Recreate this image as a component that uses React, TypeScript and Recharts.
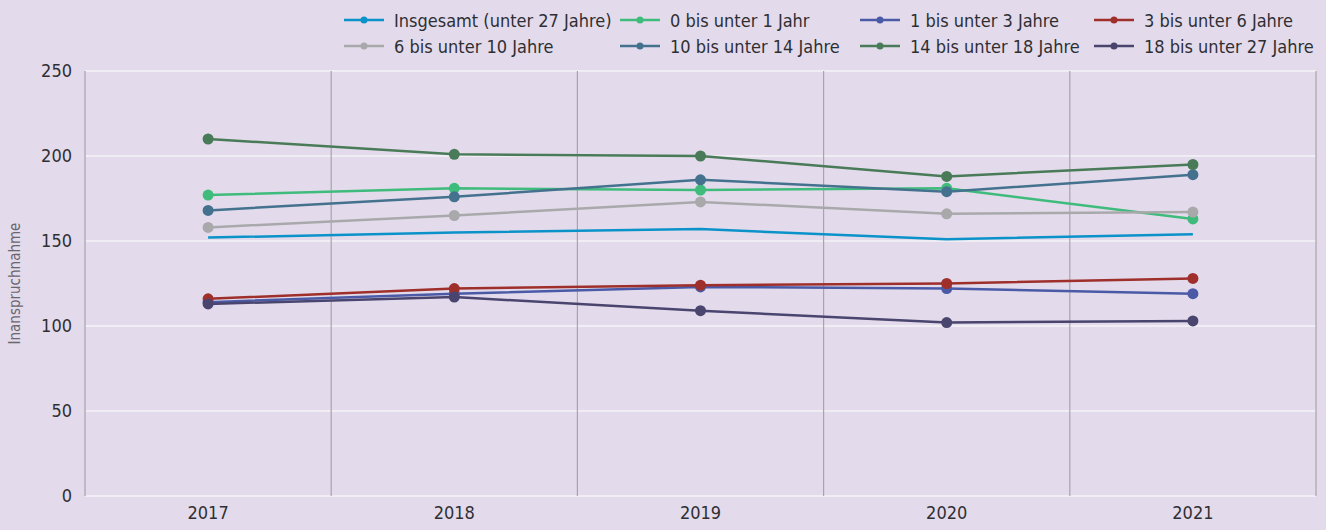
import React from "react";
import {
  CartesianGrid,
  Line,
  LineChart,
  XAxis,
  YAxis,
} from "recharts";

// Jahre und Werte je Altersgruppe
const years = [2017, 2018, 2019, 2020, 2021];
const gridBounds = [2016.5, 2017.5, 2018.5, 2019.5, 2020.5, 2021.5];
const yTicks = [0, 50, 100, 150, 200, 250];

const insgesamt = [152, 155, 157, 151, 154];
const bis1 = [177, 181, 180, 181, 163];
const bis3 = [114, 119, 123, 122, 119];
const bis6 = [116, 122, 124, 125, 128];
const bis10 = [158, 165, 173, 166, 167];
const bis14 = [168, 176, 186, 179, 189];
const bis18 = [210, 201, 200, 188, 195];
const bis27 = [113, 117, 109, 102, 103];

type Serie = { key: string; name: string; color: string; values: number[]; dot: boolean };

const series: Serie[] = [
  { key: "insgesamt", name: "Insgesamt (unter 27 Jahre)", color: "#0b93c9", values: insgesamt, dot: false },
  { key: "bis1", name: "0 bis unter 1 Jahr", color: "#3fbb7c", values: bis1, dot: true },
  { key: "bis3", name: "1 bis unter 3 Jahre", color: "#4b5aa6", values: bis3, dot: true },
  { key: "bis6", name: "3 bis unter 6 Jahre", color: "#9e2f2a", values: bis6, dot: true },
  { key: "bis10", name: "6 bis unter 10 Jahre", color: "#a9a9ab", values: bis10, dot: true },
  { key: "bis14", name: "10 bis unter 14 Jahre", color: "#44728e", values: bis14, dot: true },
  { key: "bis18", name: "14 bis unter 18 Jahre", color: "#4a7b58", values: bis18, dot: true },
  { key: "bis27", name: "18 bis unter 27 Jahre", color: "#49456e", values: bis27, dot: true },
];

const data = years.map((year, i) => {
  const row: Record<string, number> = { year };
  series.forEach((s) => {
    row[s.key] = s.values[i];
  });
  return row;
});

const FONT = '"DejaVu Sans Condensed", "Liberation Sans", sans-serif';
const BG = "#e3dbeb";

function LegendBox() {
  return (
    <div
      style={{
        position: "absolute",
        top: 9,
        left: 344,
        width: 980,
        display: "grid",
        gridTemplateColumns: "276px 240px 234px auto",
        rowGap: 4,
        fontFamily: FONT,
        fontSize: 18,
        color: "#2f2f33",
      }}
    >
      {series.map((s) => (
        <div key={s.key} style={{ display: "flex", alignItems: "center", height: 22 }}>
          <svg width={40} height={10} style={{ marginRight: 10 }}>
            <line x1={0} y1={5} x2={40} y2={5} stroke={s.color} strokeWidth={2.5} />
            <circle cx={20} cy={5} r={3.5} fill={s.color} />
          </svg>
          <span>{s.name}</span>
        </div>
      ))}
    </div>
  );
}

export default function App() {
  return (
    <div style={{ position: "absolute", left: 0, top: 0, width: 1326, height: 530, background: BG }}>
      <LineChart
        width={1326}
        height={530}
        data={data}
        margin={{ top: 71, right: 10, left: 0, bottom: 0 }}
        style={{ fontFamily: FONT }}
      >
        <CartesianGrid horizontal={true} vertical={false} stroke="#ffffff" strokeWidth={1.2} />
        <CartesianGrid
          horizontal={false}
          vertical={true}
          xAxisId="grid"
          stroke="#a8a4ac"
          strokeWidth={1.2}
        />
        <XAxis
          xAxisId="grid"
          dataKey="year"
          type="number"
          domain={[2016.5, 2021.5]}
          ticks={gridBounds}
          hide
        />
        <XAxis
          dataKey="year"
          type="number"
          domain={[2016.5, 2021.5]}
          ticks={years}
          height={34}
          axisLine={false}
          tickLine={false}
          tickMargin={4}
          tick={{ fill: "#2f2f33", fontSize: 18 }}
        />
        <YAxis
          domain={[0, 250]}
          ticks={yTicks}
          width={85}
          axisLine={{ stroke: "#bdbac2", strokeWidth: 1.5 }}
          tickLine={false}
          tickMargin={7}
          tick={{ fill: "#2f2f33", fontSize: 18 }}
          label={{
            value: "Inanspruchnahme",
            angle: -90,
            position: "insideLeft",
            offset: 15,
            style: { fill: "#6a6670", fontSize: 15, textAnchor: "middle" },
          }}
        />
        {series.map((s) => (
          <Line
            key={s.key}
            dataKey={s.key}
            name={s.name}
            stroke={s.color}
            strokeWidth={2.5}
            dot={s.dot ? { r: 5.5, fill: s.color, stroke: s.color, strokeWidth: 0 } : false}
            activeDot={false}
            isAnimationActive={false}
          />
        ))}
      </LineChart>
      <LegendBox />
    </div>
  );
}
